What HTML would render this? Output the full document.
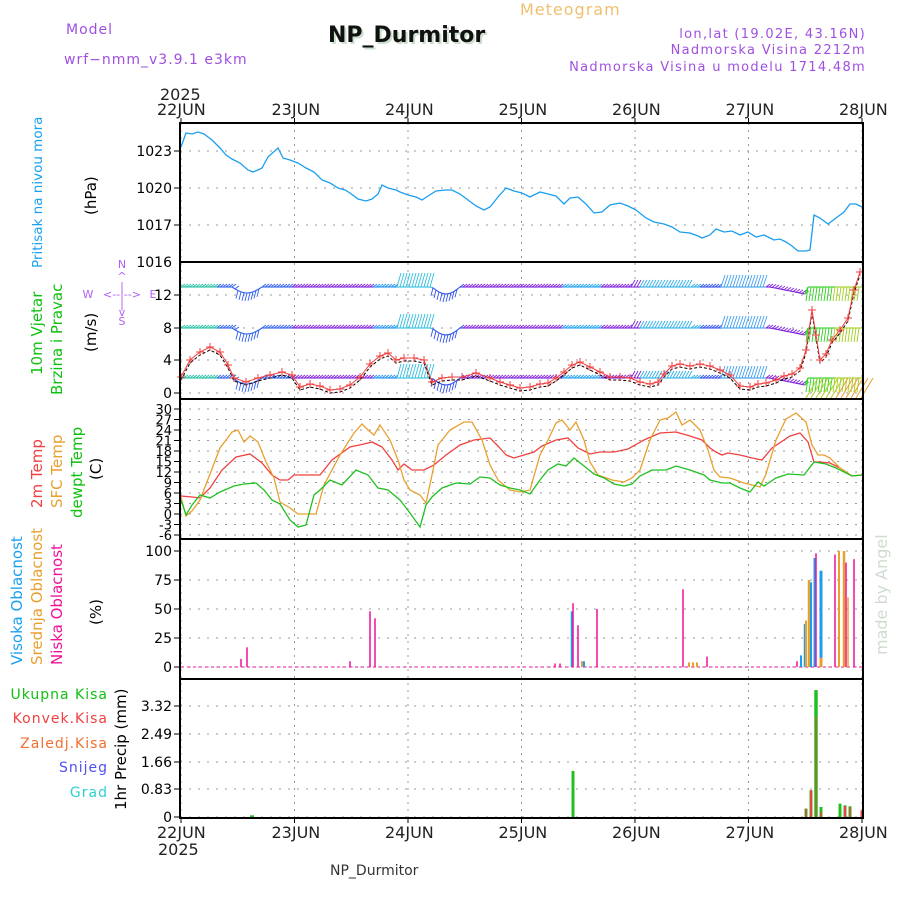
<!DOCTYPE html>
<html><head><meta charset="utf-8"><style>
body{margin:0;background:#fff;width:900px;height:900px;overflow:hidden}
svg{display:block}
text{font-family:"DejaVu Sans","Liberation Sans",sans-serif}
</style></head><body>
<svg id="s" width="900" height="900" xmlns="http://www.w3.org/2000/svg">
<rect width="900" height="900" fill="#fff"/>
<g id="grid"></g>
<g id="data"></g>
<g id="frame" fill="none" stroke="#000" stroke-width="2">
<rect x="180" y="123" width="683" height="695"/>
<line x1="180" y1="262" x2="863" y2="262"/>
<line x1="180" y1="399" x2="863" y2="399"/>
<line x1="180" y1="539" x2="863" y2="539"/>
<line x1="180" y1="679" x2="863" y2="679"/>
</g>
<g id="labels" font-size="14" fill="#000"></g>
<text x="66" y="34" font-size="14" fill="#a050e0" letter-spacing="1">Model</text>
<text x="64" y="64" font-size="14" fill="#a050e0" letter-spacing="1">wrf−nmm_v3.9.1 e3km</text>
<text x="330" y="44" font-size="22" font-weight="bold" fill="#cde0cd" font-family="Liberation Mono,monospace">NP_Durmitor</text>
<text x="328" y="42" font-size="22" font-weight="bold" fill="#111" font-family="Liberation Mono,monospace">NP_Durmitor</text>
<text x="520" y="15" font-size="16" fill="#f0c070" letter-spacing="1">Meteogram</text>
<text x="866" y="38" font-size="13" fill="#a050e0" text-anchor="end" letter-spacing="1.3">lon,lat (19.02E, 43.16N)</text>
<text x="866" y="54" font-size="13" fill="#a050e0" text-anchor="end" letter-spacing="1.3">Nadmorska Visina 2212m</text>
<text x="866" y="71" font-size="13" fill="#a050e0" text-anchor="end" letter-spacing="1.3">Nadmorska Visina u modelu 1714.48m</text>
<text x="160" y="100" font-size="16" fill="#222">2025</text>
<text x="157" y="115" font-size="16" fill="#222">22JUN</text>
<text x="157" y="838" font-size="16" fill="#222">22JUN</text>
<text x="158" y="855" font-size="16" fill="#222">2025</text>
<text x="330" y="875" font-size="14" fill="#333" font-family="Liberation Mono,monospace">NP_Durmitor</text>
<g font-size="15" transform="rotate(-90)">
<text x="-268" y="42" fill="#1aa0f0" font-size="13.5">Pritisak na nivou mora</text>
<text x="-215" y="96" fill="#000">(hPa)</text>
<text x="-375" y="42" fill="#10c010">10m Vjetar</text>
<text x="-395" y="62" fill="#10c010">Brzina i Pravac</text>
<text x="-352" y="96" fill="#000">(m/s)</text>
<text x="-508" y="42" fill="#f04040">2m Temp</text>
<text x="-508" y="62" fill="#e8a030">SFC Temp</text>
<text x="-518" y="82" fill="#10c010">dewpt Temp</text>
<text x="-480" y="101" fill="#000">(C)</text>
<text x="-665" y="22" fill="#1aa0f0">Visoka Oblacnost</text>
<text x="-665" y="42" fill="#e8a030">Srednja Oblacnost</text>
<text x="-665" y="62" fill="#f0109a">Niska Oblacnost</text>
<text x="-625" y="101" fill="#000">(%)</text>
<text x="-810" y="126" fill="#000">1hr Precip (mm)</text>
<text x="-655" y="887" fill="#cfdccf" font-family="Liberation Serif,serif" font-size="16">made by Angel</text>
</g>
<g font-size="14" text-anchor="end" letter-spacing="1">
<text x="108" y="699" fill="#10c010">Ukupna Kisa</text>
<text x="108" y="723" fill="#f04040">Konvek.Kisa</text>
<text x="108" y="748" fill="#f07030">Zaledj.Kisa</text>
<text x="108" y="772" fill="#5050f0">Snijeg</text>
<text x="108" y="797" fill="#30d0d0">Grad</text>
</g>
<g font-size="11" fill="#b060f0" text-anchor="middle">
<text x="122" y="268">N</text><text x="122" y="280">^</text><text x="122" y="290">|</text>
<text x="88" y="298">W</text><text x="122" y="298">&lt;--|--&gt;</text><text x="153" y="298">E</text>
<text x="122" y="308">|</text><text x="122" y="316">v</text><text x="122" y="325">S</text>
</g>
</svg>
<script>
const NS="http://www.w3.org/2000/svg";
function el(p,t,a){const e=document.createElementNS(NS,t);for(const k in a)e.setAttribute(k,a[k]);document.getElementById(p).appendChild(e);return e;}
const X0=181,DAY=113.5;
const days=[0,1,2,3,4,5,6];
days.forEach(d=>{const x=X0+d*DAY;el("grid","line",{x1:x,y1:123,x2:x,y2:818,stroke:"#999","stroke-dasharray":"2,5"});
 el("grid","line",{x1:x,y1:118,x2:x,y2:123,stroke:"#000"});el("grid","line",{x1:x,y1:818,x2:x,y2:823,stroke:"#000"});
 if(d>0){const lab=(22+d)+"JUN";el("labels","text",{x:x-23,y:115,"font-size":16,fill:"#222"}).textContent=lab;el("labels","text",{x:x-23,y:838,"font-size":16,fill:"#222"}).textContent=lab;}});
function hgrid(ys,labs){ys.forEach((y,i)=>{el("grid","line",{x1:180,y1:y,x2:863,y2:y,stroke:"#999","stroke-dasharray":"2,7"});el("grid","line",{x1:174,y1:y,x2:180,y2:y,stroke:"#000"});
 el("labels","text",{x:172,y:y+5,"text-anchor":"end","font-size":labs.fs||14}).textContent=labs[i];});}
hgrid([151,188,225],["1023","1020","1017"]);
el("labels","text",{x:172,y:267,"text-anchor":"end","font-size":14}).textContent="1016";
hgrid([295,328,360,393],["12","8","4","0"]);
let ty=[],tl=[];for(let t=30;t>=-6;t-=3){ty.push(409+(30-t)*3.5);tl.push(""+t);}tl.fs=13;hgrid(ty,tl);
hgrid([551,580,609,638,667],["100","75","50","25","0"]);
hgrid([706,734,762,789,817],["3.32","2.49","1.66","0.83","0"]);
function pl(pts,col,w,dash){const a={points:pts,fill:"none",stroke:col,"stroke-width":w||1.3};if(dash)a["stroke-dasharray"]=dash;return el("data","polyline",a);}
pl("181,147 186,133 192,134 198,132 204,134 212,140 220,148 226,155 232,159 240,163 248,170 253,172 258,170 262,168 268,157 278,148 283,158 290,160 298,163 306,168 314,172 322,180 330,183 338,188 345,190 350,193 358,199 366,201 372,199 378,194 382,185 388,188 396,190 400,192 408,195 416,197 422,200 428,196 436,191 446,190 452,190 460,194 468,200 476,206 484,210 490,207 498,197 506,188 514,191 522,193 530,197 540,192 548,194 556,196 564,204 570,198 578,197 586,204 594,213 602,212 610,205 620,203 628,206 636,210 646,218 654,222 664,224 672,227 680,232 690,233 698,236 702,238 710,235 716,229 724,232 732,231 740,235 748,232 756,237 764,235 774,240 780,239 786,242 792,246 798,251 806,251 810,250 814,215 820,218 828,224 836,218 844,212 850,204 856,204 862,207","#1a9ff0",1.3);
function wcol(x){if(x<215)return"#20c0a0";if(x<290)return"#3060f0";if(x<372)return"#8020e0";if(x<395)return"#2090f0";if(x<432)return"#30c0e0";if(x<462)return"#3050f0";if(x<560)return"#8020e0";if(x<600)return"#20a0f0";if(x<640)return"#8020e0";if(x<700)return"#30b0e8";if(x<720)return"#3050f0";if(x<765)return"#40a0f0";if(x<805)return"#8020e0";return x<835?"#30d020":"#a0d020";}
function off(x){if(x>232&&x<262)return 6*Math.sin((x-232)/30*Math.PI);if(x>432&&x<460)return 7*Math.sin((x-432)/28*Math.PI);if(x>770&&x<806)return (x-770)/5;return 0;}
function hl(x){if(x>395&&x<432)return -14;if(x>720&&x<765)return -12;if(x>630&&x<690)return -7;if(x>235&&x<262)return 8;if(x>432&&x<460)return 8;if(x>805)return 14;return -3;}
[287,328,378].forEach(b=>{for(let x=181;x<862;x+=3){const c=wcol(x),y=b+off(x);el("data","line",{x1:x,y1:y,x2:x+3,y2:b+off(x+3),stroke:c,"stroke-width":1.1});
 const h=hl(x);el("data","line",{x1:x,y1:y,x2:x+(h<0?4:-2),y2:y+h,stroke:c,"stroke-width":0.9});}});
for(let x=806;x<862;x+=5){el("data","line",{x1:x,y1:398,x2:x+12,y2:378,stroke:x>835?"#e8a030":"#b0d020","stroke-width":1});}
const ws="181,377 190,360 200,352 210,347 220,352 228,365 234,378 246,382 258,378 270,375 282,372 292,375 300,387 310,384 320,386 330,390 340,389 350,385 360,377 370,364 380,356 388,353 396,360 404,358 414,358 424,360 432,382 442,378 452,377 462,377 476,373 490,378 500,382 510,385 520,388 530,387 540,384 548,383 556,378 564,372 572,365 580,362 590,367 600,372 610,377 620,377 630,378 640,382 650,384 658,382 664,374 672,366 680,364 690,366 700,364 710,366 720,370 730,375 740,386 750,387 758,384 766,383 776,380 784,376 792,374 800,368 806,350 812,310 816,335 820,360 826,354 832,340 840,330 848,318 854,290 860,272";
pl(ws.split(" ").map(p=>{const [a,b]=p.split(",").map(Number);return a+","+(b+3);}).join(" "),"#000",1,"3,2");
pl(ws,"#f04040",1);
ws.split(" ").forEach((p,i)=>{const [a,b]=p.split(",").map(Number);el("data","path",{d:`M${a-4},${b}h8M${a},${b-4}v8`,stroke:"#f04040","stroke-width":1});});
pl("181,496 192,497 200,498 210,488 222,470 236,457 250,454 262,463 272,475 280,480 288,480 294,475 310,475 320,475 332,460 350,447 364,444 372,442 382,447 392,460 398,470 404,464 412,470 424,470 434,465 446,455 460,445 474,440 490,438 498,446 506,455 514,458 524,455 534,452 542,446 556,440 568,438 578,448 590,454 600,452 614,452 628,449 644,440 660,433 676,432 690,436 702,440 710,448 716,452 722,455 728,453 740,455 752,458 762,460 772,448 790,436 800,433 808,442 814,462 820,462 830,463 840,468 852,476 862,475","#f04040",1.3);
pl("181,497 186,516 192,511 200,500 210,474 220,448 232,432 238,430 244,442 250,436 258,442 266,462 274,478 280,502 290,508 298,514 316,514 324,485 340,455 354,433 362,424 368,430 374,435 380,425 390,440 398,460 404,480 410,490 420,495 426,503 432,475 438,445 450,430 464,422 472,422 482,440 490,465 498,480 510,490 520,492 530,490 540,455 548,440 556,423 562,420 570,430 576,422 584,440 590,462 598,475 612,480 624,482 632,478 640,470 650,440 660,420 668,418 676,412 682,425 690,420 700,430 708,450 714,470 720,477 730,478 744,483 760,487 766,474 776,440 786,419 796,413 806,422 812,445 818,455 824,455 830,458 840,468 852,476 862,475","#e8a030",1.3);
pl("181,500 186,515 192,505 200,495 210,498 220,492 234,486 244,484 256,483 264,490 272,500 280,504 290,520 298,527 306,525 314,495 320,490 330,480 342,485 356,470 368,475 378,488 388,490 400,500 410,513 420,527 426,505 432,497 442,488 456,483 470,484 480,477 490,478 500,485 510,488 520,490 530,494 540,480 548,470 558,464 566,466 574,458 584,466 594,474 604,478 614,484 624,486 632,484 640,476 652,470 666,470 676,466 690,470 704,475 710,480 722,483 730,483 740,488 750,492 758,482 764,486 776,478 788,474 804,475 814,462 826,464 836,468 852,476 862,475","#20c020",1.3);
el("data","line",{x1:181,y1:667,x2:862,y2:667,stroke:"#f0109a","stroke-dasharray":"3,3"});
const P="#f0109a",O="#e8a030",B="#1a9ff0";
[[241,7,P,1.5],[247,17,P,1.5],[350,5,P,1.5],[370,48,P,1.5],[375,42,P,1.5],[555,3,P,1.5],[560,3,P,1.5],[572,48,B,2.5],[573,55,P,1.5],[578,36,P,1.5],[582,5,O,2],[584,5,B,2],[597,50,P,1.5],[683,67,P,1.5],[689,4,O,2],[693,4,O,2],[697,4,O,2],[707,9,P,1.5],[797,5,P,1.5],[801,10,B,2],[805,37,B,2.5],[806,40,O,2],[809,75,O,2.5],[811,73,B,2],[815,94,B,3],[816,98,P,1.5],[821,83,B,3],[821,8,O,3],[835,97,P,1.5],[839,42,B,2],[839,100,O,2],[844,100,O,2.5],[846,90,P,1.5],[848,60,O,1.5],[854,93,P,1.5]].forEach(([x,p,c,w])=>el("data","rect",{x:x-w/2,y:667-p*1.16,width:w,height:p*1.16,fill:c}));
[[252,0.05,"#20c020",4],[573,1.38,"#20c020",3],[806,0.25,"#20c020",3],[806,0.25,"#f04040",1.5],[811,0.8,"#20c020",3],[811,0.8,"#f04040",2],[816,3.8,"#20c020",3.5],[816,3.0,"#f04040",1],[821,0.3,"#20c020",3],[821,0.15,"#f04040",1.5],[840,0.4,"#20c020",3],[845,0.35,"#20c020",3],[845,0.33,"#f04040",2],[850,0.32,"#20c020",3],[850,0.3,"#f04040",1.5],[862,0.2,"#f04040",3]].forEach(([x,v,c,w])=>el("data","rect",{x:x-w/2,y:817-v*33.4,width:w,height:v*33.4,fill:c}));
</script>
</body></html>
